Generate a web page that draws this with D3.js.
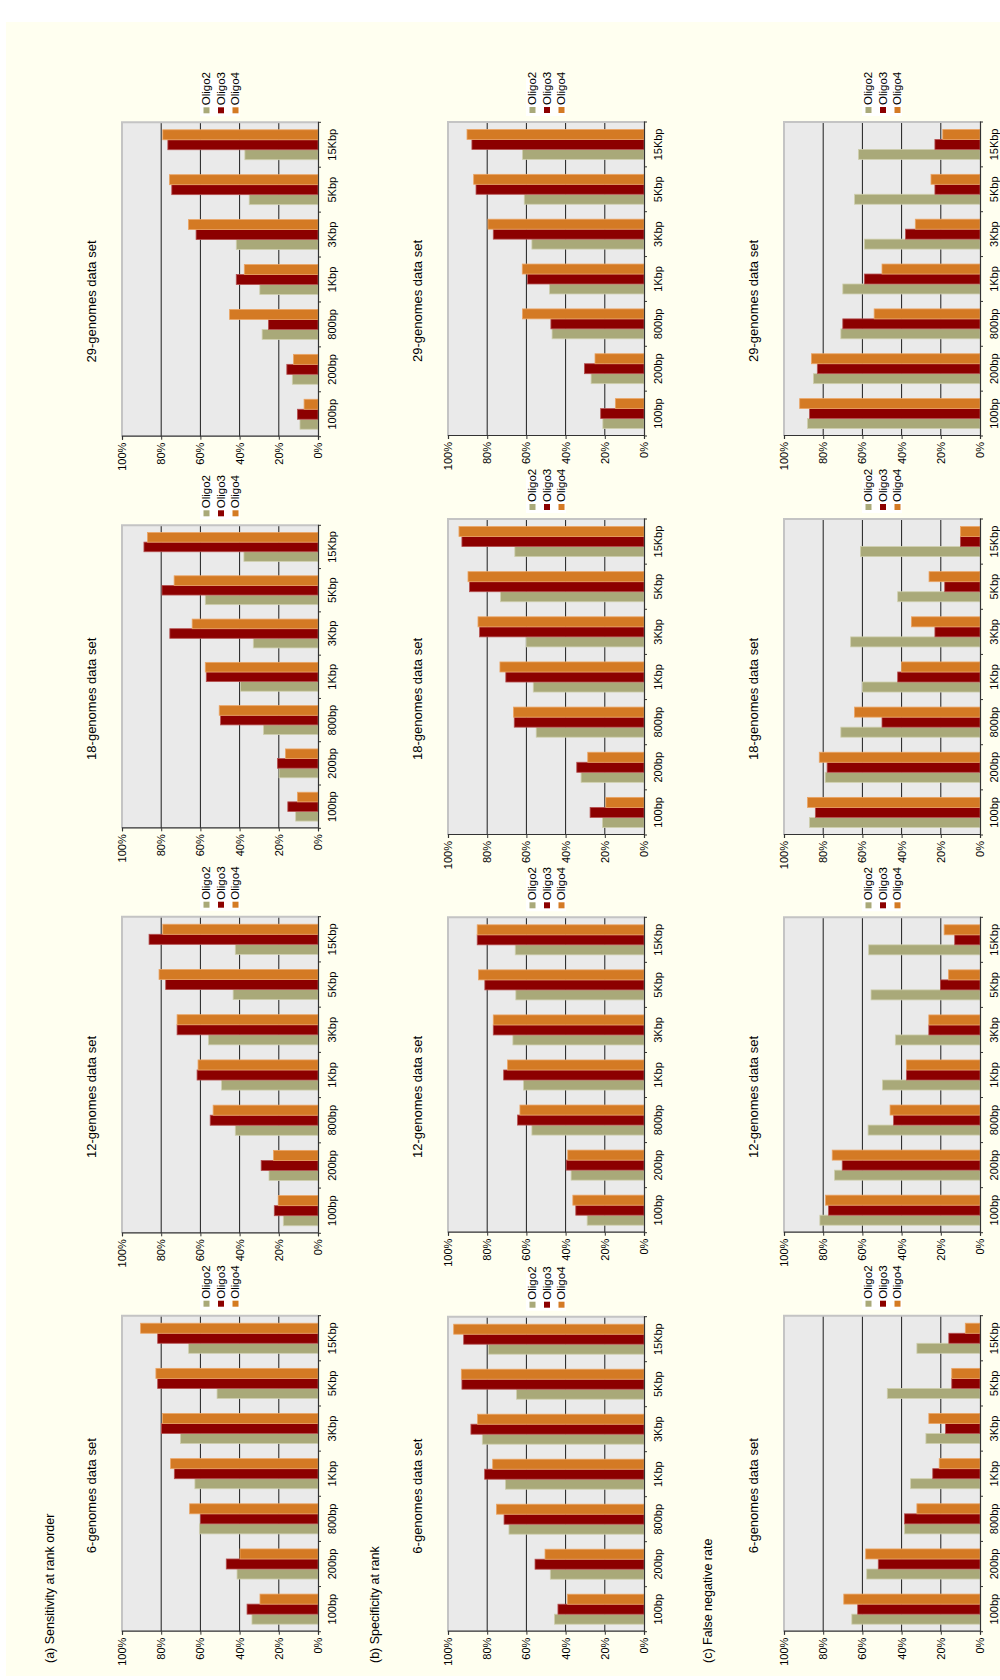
<!DOCTYPE html>
<html>
<head>
<meta charset="utf-8">
<script src="https://cdn.jsdelivr.net/npm/d3@7"></script>
<style>
  body { margin: 0; background: #ffffff; }
  svg text { font-family: "Liberation Sans Narrow", "Arial Narrow", "Liberation Sans", sans-serif; fill: #000; }
</style>
</head>
<body>
<svg id="chart" width="1000" height="1680"></svg>
<script>
// ---- data -------------------------------------------------------------
const categories = ["100bp", "200bp", "800bp", "1Kbp", "3Kbp", "5Kbp", "15Kbp"];
const seriesNames = ["Oligo2", "Oligo3", "Oligo4"];
const datasetTitles = ["6-genomes data set", "12-genomes data set", "18-genomes data set", "29-genomes data set"];
const metricTitles = ["(a) Sensitivity at rank order", "(b) Specificity at rank", "(c) False negative rate"];
const valueTicks = [0, 20, 40, 60, 80, 100];

// each array: rows = Oligo2, Oligo3, Oligo4; columns follow `categories` (percent)
const sensitivity6 = [
  [33.7, 41.3, 60.5, 62.8, 70.2, 51.5, 66.0],
  [36.2, 46.8, 59.9, 73.3, 79.9, 81.8, 81.8],
  [29.6, 39.8, 65.5, 75.2, 79.3, 82.7, 90.5]
];
const sensitivity12 = [
  [17.7, 25.0, 42.2, 49.2, 55.9, 43.3, 42.2],
  [22.3, 29.0, 55.0, 61.7, 71.9, 77.7, 86.2],
  [20.3, 22.7, 53.5, 61.2, 71.9, 81.1, 79.2]
];
const sensitivity18 = [
  [11.4, 19.9, 27.8, 39.6, 33.0, 57.5, 37.8],
  [15.4, 20.7, 49.7, 57.0, 75.6, 79.6, 88.8],
  [10.5, 16.6, 50.4, 57.5, 64.2, 73.4, 87.0]
];
const sensitivity29 = [
  [9.2, 13.1, 28.5, 29.7, 41.7, 35.1, 37.3],
  [10.5, 15.9, 25.3, 41.7, 62.2, 74.6, 76.6],
  [7.1, 12.5, 45.1, 37.6, 66.1, 75.8, 79.2]
];
const specificity6 = [
  [45.7, 47.8, 68.9, 70.7, 82.5, 65.0, 79.3],
  [43.9, 55.6, 71.4, 81.3, 88.3, 92.9, 92.0],
  [39.1, 50.5, 75.3, 77.2, 84.9, 93.2, 97.1]
];
const specificity12 = [
  [29.0, 37.2, 57.2, 61.5, 66.9, 65.4, 65.7],
  [34.8, 39.7, 64.5, 71.6, 76.9, 81.2, 85.1],
  [36.3, 38.9, 63.3, 69.6, 76.9, 84.4, 85.1]
];
const specificity18 = [
  [21.2, 32.1, 55.0, 56.5, 60.1, 73.2, 65.9],
  [27.5, 34.3, 66.2, 70.5, 83.9, 89.0, 92.9],
  [19.5, 28.7, 66.6, 73.5, 84.7, 89.8, 94.4]
];
const specificity29 = [
  [21.0, 27.0, 46.9, 48.2, 57.2, 61.1, 62.0],
  [22.1, 30.4, 47.5, 59.4, 76.9, 85.7, 87.8],
  [14.6, 25.0, 62.0, 62.1, 79.6, 86.9, 90.3]
];
const falseNegative6 = [
  [65.4, 57.8, 38.5, 35.4, 27.6, 47.3, 32.2],
  [62.4, 51.9, 38.5, 24.1, 17.6, 14.4, 15.9],
  [69.5, 58.3, 32.2, 20.8, 26.1, 14.4, 7.5]
];
const falseNegative12 = [
  [81.7, 74.2, 57.1, 49.8, 43.2, 55.6, 56.8],
  [77.3, 70.3, 44.1, 37.5, 26.1, 20.2, 12.9],
  [78.8, 75.4, 45.9, 37.5, 26.1, 16.1, 18.3]
];
const falseNegative18 = [
  [87.0, 79.0, 71.0, 60.0, 66.0, 42.0, 61.0],
  [84.0, 78.0, 50.0, 42.0, 23.0, 18.0, 10.0],
  [88.0, 82.0, 64.0, 40.0, 35.0, 26.0, 10.0]
];
const falseNegative29 = [
  [88.0, 85.0, 71.0, 70.0, 59.0, 64.0, 62.0],
  [87.0, 83.0, 70.0, 59.0, 38.0, 23.0, 23.0],
  [92.0, 86.0, 54.0, 50.0, 33.0, 25.0, 19.0]
];

const panelData = [
  [sensitivity6, sensitivity12, sensitivity18, sensitivity29],
  [specificity6, specificity12, specificity18, specificity29],
  [falseNegative6, falseNegative12, falseNegative18, falseNegative29]
];

// ---- layout (drawn in a landscape 1680 x 1000 frame, then turned upright) ----
const FRAME_W = 1680, FRAME_H = 1000;
const seriesColors = ["#a9a979", "#8c0000", "#d47a24"];
const seriesEdges  = ["#cfcfae", "#b65252", "#eba565"];

const rowTop = [122, 448, 784];          // y of the 100% line in each row
const plotHeight = 196;
const metricBaseline = [54, 379, 712];
const columnSpans = [
  [[48.3, 364.3], [446.7, 763.3], [851.7, 1154.7], [1243.3, 1557.7]],
  [[48.3, 363.3], [447.3, 762.7], [845, 1161], [1244, 1558]],
  [[48.3, 364.3], [447.3, 762.7], [845, 1161], [1244, 1558]]
];

const svg = d3.select("#chart");
const root = svg.append("g")
  .attr("transform", `translate(0,${FRAME_W}) rotate(-90)`);

// cream page
root.append("rect")
  .attr("x", 4).attr("y", 6)
  .attr("width", FRAME_W - 26).attr("height", FRAME_H - 6)
  .attr("fill", "#fffff0");

// section headings
metricTitles.forEach((t, r) => {
  root.append("text")
    .attr("x", 17).attr("y", metricBaseline[r])
    .style("font-size", "12.5px")
    .text(t);
});

panelData.forEach((rowSets, r) => {
  rowSets.forEach((values, c) => {
    const [x0, x1] = columnSpans[r][c];
    const top = rowTop[r];
    const bottom = top + plotHeight;
    const g = root.append("g");

    const x = d3.scaleBand().domain(categories).range([x0, x1]).paddingInner(0).paddingOuter(0);
    const xs = d3.scaleBand().domain(seriesNames).range([0, x.bandwidth()]).paddingInner(0).paddingOuter(0.75);
    const y = d3.scaleLinear().domain([0, 100]).range([bottom, top]);

    // plot background
    g.append("rect")
      .attr("x", x0).attr("y", top)
      .attr("width", x1 - x0).attr("height", bottom - top)
      .attr("fill", "#eaeaea");

    // gridlines
    g.selectAll("line.grid")
      .data(valueTicks.filter(v => v > 0 && v < 100))
      .join("line")
      .attr("x1", x0).attr("x2", x1)
      .attr("y1", d => y(d)).attr("y2", d => y(d))
      .attr("stroke", "#1e1e1e").attr("stroke-width", 1);

    // grey frame on the top and right sides
    g.append("path")
      .attr("d", `M${x0},${y(100)}H${x1}V${bottom}`)
      .attr("fill", "none").attr("stroke", "#c4c4c4").attr("stroke-width", 2);

    // bars
    const series = g.selectAll("g.series")
      .data(seriesNames.map((name, i) => ({ name, i, vals: values[i] })))
      .join("g");
    series.selectAll("rect")
      .data(s => categories.map((cat, k) => ({ cat, v: s.vals[k], i: s.i, name: s.name })))
      .join("rect")
      .attr("x", d => x(d.cat) + xs(d.name))
      .attr("y", d => y(d.v))
      .attr("width", xs.bandwidth())
      .attr("height", d => y(0) - y(d.v))
      .attr("fill", d => seriesColors[d.i])
      .attr("stroke", d => seriesEdges[d.i])
      .attr("stroke-width", 0.8);

    // value axis
    const yAxis = g.append("g")
      .attr("transform", `translate(${x0},0)`)
      .call(d3.axisLeft(y).tickValues(valueTicks).tickFormat(d => d + "%").tickSize(3).tickPadding(3));
    yAxis.select(".domain").attr("stroke", "#333").attr("stroke-width", 1.2);
    yAxis.selectAll(".tick line").attr("stroke", "#333");
    yAxis.selectAll("text").style("font-size", "11px").attr("font-family", null);

    // category axis
    const xAxis = g.append("g")
      .attr("transform", `translate(0,${bottom})`)
      .call(d3.axisBottom(x).tickSize(0).tickPadding(10).tickSizeOuter(0));
    xAxis.select(".domain").attr("stroke", "#333").attr("stroke-width", 1.2);
    xAxis.selectAll("text").style("font-size", "11px").attr("font-family", null);
    // separators between categories
    g.selectAll("line.sep")
      .data(categories.concat(["end"]))
      .join("line")
      .attr("x1", (d, k) => k < categories.length ? x(d) : x1)
      .attr("x2", (d, k) => k < categories.length ? x(d) : x1)
      .attr("y1", bottom).attr("y2", bottom + 3)
      .attr("stroke", "#333");

    // dataset title
    g.append("text")
      .attr("x", (x0 + x1) / 2 - 22).attr("y", top - 26)
      .attr("text-anchor", "middle")
      .style("font-size", "13px")
      .text(datasetTitles[c]);

    // legend
    const lg = g.append("g").attr("transform", `translate(${x1 + 6},${(top + bottom) / 2 - 20})`);
    lg.append("rect").attr("width", 38).attr("height", 40).attr("fill", "#ffffff");
    seriesNames.forEach((name, i) => {
      const row = lg.append("g").attr("transform", `translate(0,${6 + i * 14.5})`);
      row.append("rect").attr("x", 3).attr("y", -2.5).attr("width", 6).attr("height", 6)
        .attr("fill", seriesColors[i]);
      row.append("text").attr("x", 11).attr("y", 4)
        .style("font-size", "11.5px")
        .text(name);
    });
  });
});
</script>
</body>
</html>
